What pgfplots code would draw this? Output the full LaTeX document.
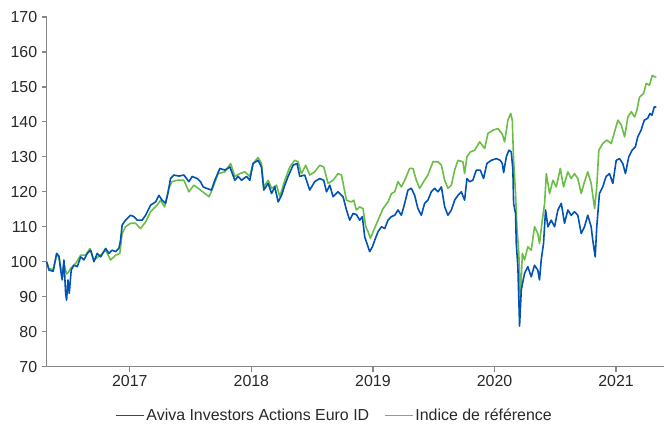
\documentclass[border=0pt]{standalone}
\usepackage{pgfplots}
\pgfplotsset{compat=1.18}
\usepackage{fontspec}
\setmainfont{Liberation Sans}
\definecolor{avblue}{RGB}{0,82,180}
\definecolor{refgreen}{RGB}{106,189,69}
\definecolor{axgray}{RGB}{135,135,135}
\definecolor{lblcol}{RGB}{40,40,40}

\pgfplotstableread{
x y
2016.316 100
2016.335 97.6
2016.370 97.3
2016.398 102.4
2016.417 101.6
2016.431 97.6
2016.444 94.8
2016.458 100.5
2016.472 91
2016.480 89
2016.491 94.8
2016.502 91
2016.518 97.6
2016.540 99
2016.568 98.6
2016.596 101.4
2016.623 100.5
2016.650 102.4
2016.678 103.3
2016.705 100
2016.732 102.4
2016.760 101.4
2016.801 103.8
2016.828 102.4
2016.855 103.3
2016.883 102.9
2016.910 103.8
2016.924 106.2
2016.937 110.5
2016.965 111.9
2017.006 113.3
2017.034 112.9
2017.061 111.9
2017.102 111.9
2017.130 113.3
2017.171 116.2
2017.212 117.1
2017.239 119
2017.266 117.6
2017.294 116.7
2017.313 119.5
2017.335 123.8
2017.362 124.8
2017.404 124.5
2017.445 124.8
2017.486 122.9
2017.513 124.4
2017.554 123.8
2017.582 122.9
2017.603 121.4
2017.631 121
2017.672 120.5
2017.699 123.3
2017.741 126.7
2017.782 126.2
2017.823 127.1
2017.864 123.3
2017.891 124.4
2017.919 123.3
2017.960 124.4
2017.987 123.3
2018.014 128.1
2018.055 129
2018.083 127.1
2018.102 120.5
2018.138 122.4
2018.166 119.5
2018.193 121.4
2018.220 117.1
2018.248 119
2018.275 121.9
2018.302 124.4
2018.343 127.6
2018.376 128.1
2018.398 124.4
2018.439 124.8
2018.480 120.5
2018.521 122.9
2018.562 123.8
2018.595 123.3
2018.618 120
2018.645 121.9
2018.672 118.6
2018.713 120
2018.754 118.6
2018.782 114.8
2018.809 111.9
2018.836 113.8
2018.864 113.5
2018.891 111.9
2018.913 112.9
2018.932 107.1
2018.951 105.2
2018.973 102.9
2018.996 104.3
2019.015 106.2
2019.042 108.6
2019.070 110
2019.097 109.5
2019.124 111.9
2019.152 112.9
2019.179 113.3
2019.206 114.8
2019.234 113.3
2019.261 116.7
2019.288 120.5
2019.316 121
2019.343 119
2019.370 115.2
2019.398 113.3
2019.425 116.7
2019.452 117.6
2019.480 120
2019.508 121
2019.535 120
2019.563 121.4
2019.590 115.7
2019.617 113.3
2019.645 114.8
2019.672 117.6
2019.699 119
2019.727 120
2019.754 117.6
2019.773 123.8
2019.795 122.9
2019.822 123.3
2019.850 126.2
2019.883 126.2
2019.910 123.8
2019.937 128.1
2019.973 129
2020.015 129.5
2020.047 129
2020.064 128.1
2020.075 125.5
2020.097 130
2020.118 131.9
2020.138 131.4
2020.151 126.2
2020.157 116.7
2020.173 113.8
2020.179 105.2
2020.192 98.6
2020.200 89
2020.206 81.6
2020.220 91.9
2020.247 96.7
2020.274 98.6
2020.302 95.7
2020.329 99
2020.356 97.6
2020.370 94.8
2020.384 100.5
2020.403 105.2
2020.420 114.8
2020.439 110
2020.466 111.9
2020.494 110
2020.521 114.8
2020.549 116.7
2020.576 111
2020.603 114.8
2020.631 113.3
2020.658 114.3
2020.685 113.3
2020.713 108.1
2020.740 110
2020.767 113.3
2020.795 110
2020.808 106.2
2020.828 101.4
2020.841 110
2020.863 119.5
2020.890 121.4
2020.918 124.4
2020.946 125.2
2020.973 122.4
2021.001 129
2021.028 129.5
2021.055 128.1
2021.077 125.2
2021.104 130
2021.132 131.9
2021.159 132.9
2021.178 135.7
2021.205 137.6
2021.232 140.5
2021.259 141
2021.279 142.4
2021.295 141.9
2021.314 144.3
2021.331 144.2
}\avivadata

\pgfplotstableread{
x y
2016.316 100
2016.335 98
2016.370 97.8
2016.398 102
2016.417 101.5
2016.444 96
2016.458 99.5
2016.480 96.5
2016.495 97
2016.513 98.1
2016.554 99.5
2016.596 101.9
2016.637 101.9
2016.672 103.8
2016.705 100.5
2016.760 101.9
2016.801 103.3
2016.842 100.5
2016.883 101.9
2016.918 102.4
2016.937 108.1
2016.965 110
2017.006 111
2017.047 111
2017.088 109.5
2017.130 111.4
2017.171 114.3
2017.225 116.2
2017.253 117.6
2017.286 115.7
2017.321 121
2017.348 122.9
2017.390 123.3
2017.445 123.3
2017.486 120
2017.527 121.9
2017.582 120.5
2017.617 119.5
2017.653 118.6
2017.685 121.4
2017.727 125.2
2017.782 125.7
2017.829 128.1
2017.864 124.4
2017.905 125.2
2017.946 125.7
2017.987 124.4
2018.014 128.1
2018.055 129.8
2018.083 128.1
2018.102 121.4
2018.138 123.3
2018.166 121
2018.207 121.9
2018.234 118.6
2018.275 123.3
2018.316 127.1
2018.357 129
2018.384 128.6
2018.412 125.2
2018.447 127.6
2018.480 124.8
2018.521 125.7
2018.562 127.6
2018.595 127.1
2018.631 122.4
2018.672 123.3
2018.713 125.2
2018.741 124.8
2018.782 117.6
2018.823 117.1
2018.842 117.6
2018.864 114.8
2018.891 115.7
2018.918 115.2
2018.941 110
2018.960 108.6
2018.979 106.7
2019.006 109
2019.042 111.9
2019.083 115.2
2019.124 117.1
2019.152 119.5
2019.179 120
2019.206 122.9
2019.234 121.4
2019.261 123.3
2019.302 126.7
2019.329 126.7
2019.357 123.3
2019.384 121
2019.417 122.9
2019.452 124.8
2019.494 128.6
2019.535 128.6
2019.563 127.6
2019.590 123.3
2019.617 121
2019.645 121.9
2019.672 126.2
2019.699 129
2019.740 128.6
2019.754 125.2
2019.773 130
2019.801 131.4
2019.837 131.9
2019.878 134.3
2019.919 132.4
2019.946 136.7
2019.987 137.6
2020.028 138.1
2020.064 136.5
2020.083 134.3
2020.102 138.6
2020.110 140.5
2020.133 142.4
2020.146 140.5
2020.157 129
2020.173 119.5
2020.184 110
2020.200 102.4
2020.212 88.6
2020.229 102.4
2020.247 100.5
2020.274 104.3
2020.302 103.3
2020.329 110
2020.356 108.1
2020.370 105.2
2020.393 111.9
2020.412 116.7
2020.426 125.2
2020.453 119.5
2020.480 123.3
2020.508 121.4
2020.541 126.7
2020.568 121.4
2020.603 125.7
2020.631 123.8
2020.658 125.2
2020.685 123.8
2020.713 119.5
2020.740 122.9
2020.767 125.7
2020.795 122.4
2020.823 115.2
2020.841 121.4
2020.858 131.9
2020.890 133.8
2020.924 134.8
2020.960 133.8
2020.987 137.1
2021.015 140.5
2021.043 139.1
2021.070 135.7
2021.097 141.4
2021.125 142.9
2021.152 141.4
2021.171 143.3
2021.193 147.1
2021.226 148.1
2021.248 151
2021.275 150.5
2021.297 153.3
2021.314 152.9
2021.331 152.9
}\refdata

\begin{document}
\begin{tikzpicture}
\begin{axis}[
  scale only axis,
  width=618.3bp, height=350bp,
  xmin=2016.316, xmax=2021.397,
  ymin=70, ymax=170,
  ytick={70,80,...,170},
  xtick={2017,2018,2019,2020,2021},
  xticklabel style={/pgf/number format/1000 sep={}},
  axis x line*=bottom, axis y line*=left,
  axis line style={axgray, line width=1.3pt},
  tick style={axgray, line width=1.2pt},
  tick align=outside, major tick length=5bp,
  /pgf/number format/assume math mode=true,
  ticklabel style={font=\fontsize{16}{19}\selectfont, text=lblcol},
  yticklabel style={xshift=-1bp},
  clip=false,
  legend columns=2,
  legend style={at={(0.466,-0.14)}, anchor=center, draw=none, fill=none,
    font=\fontsize{16}{19}\selectfont, text=lblcol,
    /tikz/every even column/.append style={column sep=13bp}},
  legend image code/.code={\draw[#1, line width=1.3pt] (0bp,0bp) -- (28bp,0bp);},
  every axis plot/.append style={line width=1.6pt, line join=round},
]
\addlegendimage{avblue}
\addlegendentry{Aviva Investors Actions Euro ID}
\addlegendimage{refgreen}
\addlegendentry{Indice de référence}
\addplot[refgreen, forget plot] table[x=x, y=y] {\refdata};
\addplot[avblue, forget plot] table[x=x, y=y] {\avivadata};
\end{axis}
\path (current axis.south west) ++(-46.7bp,-57bp) rectangle ++(665bp,424bp);
\end{tikzpicture}
\end{document}
